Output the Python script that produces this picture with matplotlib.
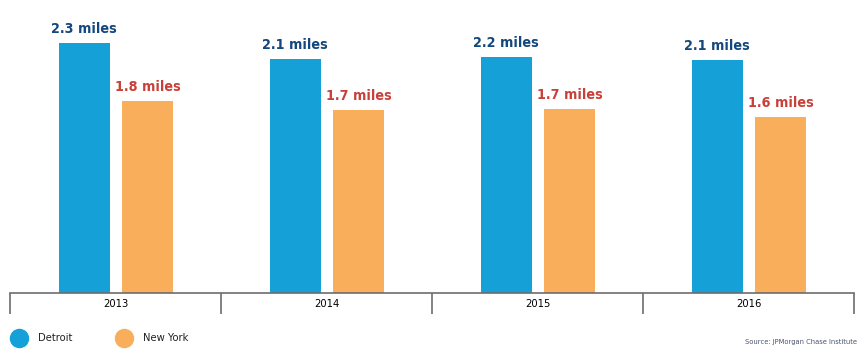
import matplotlib
matplotlib.use("Agg")
import matplotlib.pyplot as plt
from matplotlib.lines import Line2D
import numpy as np

years = ["2013", "2014", "2015", "2016"]
detroit = [2.30, 2.15, 2.17, 2.14]
new_york = [1.77, 1.68, 1.69, 1.62]
detroit_labels = ["2.3 miles", "2.1 miles", "2.2 miles", "2.1 miles"]
new_york_labels = ["1.8 miles", "1.7 miles", "1.7 miles", "1.6 miles"]

BLUE = "#16a0d8"
ORANGE = "#f9ae5b"
BLUE_TXT = "#13477d"
RED_TXT = "#c9403a"
FONT = dict(family="DejaVu Sans", fontstretch="condensed")

W, H = 867, 355
fig = plt.figure(figsize=(W / 100, H / 100), dpi=100)
ax = fig.add_axes([10 / W, (H - 293) / H, 844 / W, 293 / H])

x = np.arange(len(years))
bw = 0.242
ax.bar(x - 0.148, detroit, bw, color=BLUE, zorder=2)
ax.bar(x + 0.153, new_york, bw, color=ORANGE, zorder=2)

for xi, v, lab in zip(x, detroit, detroit_labels):
    ax.annotate(lab, (xi - 0.148, v), xytext=(0, 5), textcoords="offset points",
                ha="center", va="bottom", fontsize=10.3, fontweight="bold",
                color=BLUE_TXT, **FONT)
for xi, v, lab in zip(x, new_york, new_york_labels):
    ax.annotate(lab, (xi + 0.153, v), xytext=(0, 5), textcoords="offset points",
                ha="center", va="bottom", fontsize=10.3, fontweight="bold",
                color=RED_TXT, **FONT)

ax.set_xlim(-0.5, len(years) - 0.5)
ax.set_ylim(0, 293 / 108.7)
for s in ["top", "right", "left"]:
    ax.spines[s].set_visible(False)
ax.spines["bottom"].set_color("#6d6d6d")
ax.spines["bottom"].set_linewidth(1.2)
ax.set_yticks([])

ax.set_xticks(np.arange(len(years) + 1) - 0.5)
ax.set_xticklabels([])
ax.tick_params(axis="x", which="major", length=15, width=1.2, color="#6d6d6d")
ax.set_xticks(x, minor=True)
ax.set_xticklabels(years, minor=True, fontsize=8, **FONT)
ax.tick_params(axis="x", which="minor", length=0, pad=4)

# legend
for cx, name, col in [(19, "Detroit", BLUE), (124, "New York", ORANGE)]:
    fig.add_artist(Line2D([cx / W], [(H - 338) / H], marker="o", markersize=13,
                          color=col, transform=fig.transFigure))
    fig.text((cx + 19) / W, (H - 338) / H, name, fontsize=8, va="center",
             color="#222222", **FONT)
fig.text(857 / W, (H - 342) / H, "Source: JPMorgan Chase Institute", fontsize=5.4,
         ha="right", va="center", color="#4a5474", **FONT)

fig.savefig("out.png", dpi=100)
